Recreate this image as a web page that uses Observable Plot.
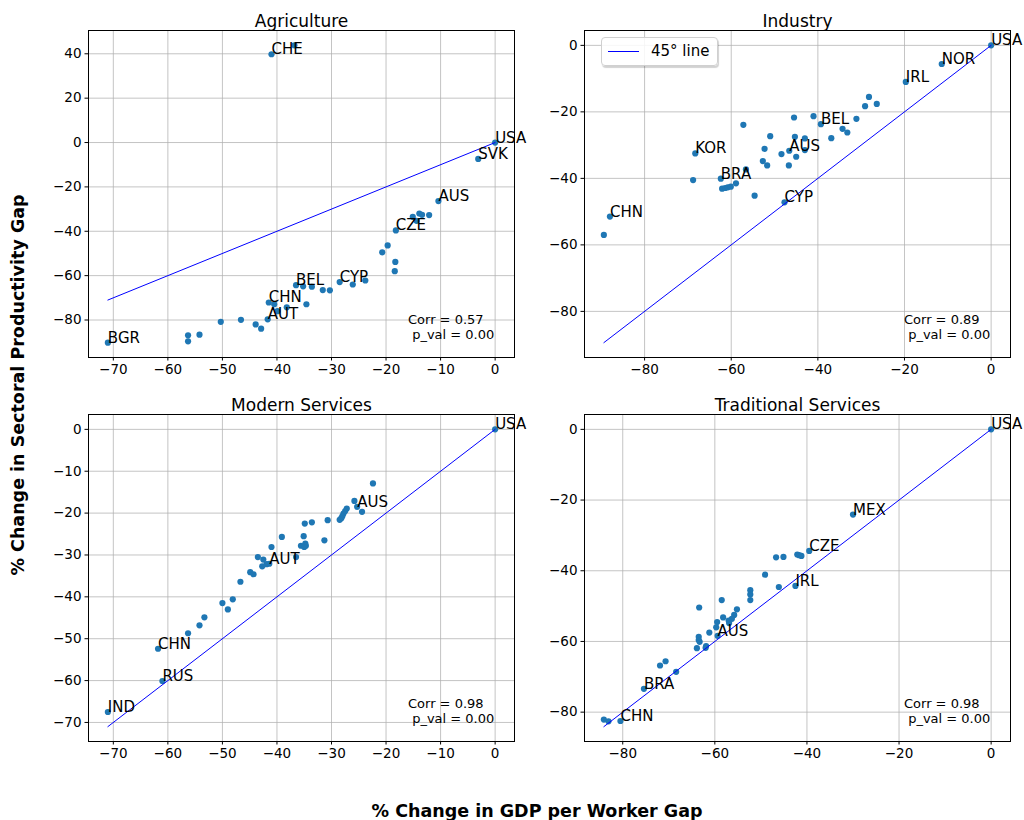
<!DOCTYPE html>
<html><head><meta charset="utf-8">
<script src="https://cdn.jsdelivr.net/npm/d3@7"></script>
<script src="https://cdn.jsdelivr.net/npm/@observablehq/plot@0.6"></script>
<style>
html,body{margin:0;padding:0;background:#fff;overflow:hidden;}
#root{position:relative;width:1024px;height:820px;font-family:"DejaVu Sans",sans-serif;color:#000;}
.panel{position:absolute;}
.panel svg{overflow:visible;}
.ylab{position:absolute;left:18px;top:385px;transform:translate(-50%,-50%) rotate(-90deg);white-space:nowrap;font-weight:bold;font-size:17.5px;}
.xlab{position:absolute;left:537px;top:811px;transform:translate(-50%,-50%);white-space:nowrap;font-weight:bold;font-size:17.5px;}
.legend{position:absolute;left:601px;top:37px;width:115px;height:27px;border:1px solid #d0d0d0;border-radius:4px;background:rgba(255,255,255,0.85);box-shadow:1px 2px 1px rgba(0,0,0,0.18);}
.legend .sw{position:absolute;left:6px;top:13px;width:31px;height:1.2px;background:blue;}
.legend .tx{position:absolute;left:49px;top:3px;font-size:15px;line-height:20px;}
</style></head>
<body><div id="root"></div>
<script>
// ---- data (code, % change in GDP per worker gap, % change in sectoral productivity gap) ----
const panelTitles = ["Agriculture", "Industry", "Modern Services", "Traditional Services"];
const corrValues = [0.57, 0.89, 0.98, 0.98];
const pValues = [0.00, 0.00, 0.00, 0.00];
const legendLabel = "45° line";
const xAxisLabel = "% Change in GDP per Worker Gap";
const yAxisLabel = "% Change in Sectoral Productivity Gap";

const agriculturePoints = [
  ["CHE", -41.0, 39.8], ["", -36.8, 43.8], ["USA", 0, 0], ["SVK", -3.1, -7.4],
  ["AUS", -10.4, -26.4], ["", -15.1, -33.5], ["", -14.4, -35.3], ["", -13.9, -32.0],
  ["", -13.4, -32.6], ["", -12.1, -32.7], ["CZE", -18.2, -39.6], ["", -19.7, -46.4],
  ["", -20.7, -49.5], ["", -18.3, -53.8], ["", -18.4, -58.0], ["CYP", -28.5, -62.9],
  ["", -26.1, -64.0], ["", -23.8, -62.2], ["", -30.3, -66.6], ["", -31.6, -66.5],
  ["", -33.6, -65.0], ["BEL", -36.5, -64.3], ["", -35.2, -64.8], ["", -34.6, -72.9],
  ["", -38.2, -74.3], ["CHN", -41.5, -72.1], ["", -40.5, -72.9], ["", -39.9, -76.0],
  ["AUT", -41.7, -79.7], ["", -43.9, -82.0], ["", -42.9, -83.9], ["", -46.6, -79.9],
  ["", -50.3, -80.8], ["", -54.2, -86.6], ["", -56.3, -86.9], ["", -56.3, -89.6],
  ["BGR", -71.0, -90.2]
];
const industryPoints = [
  ["USA", 0, 0], ["NOR", -11.4, -5.6], ["IRL", -19.7, -11.0], ["", -28.2, -15.5],
  ["", -29.1, -18.3], ["", -26.4, -17.6], ["", -31.1, -22.1], ["", -34.3, -25.1],
  ["", -33.2, -26.2], ["", -36.9, -27.9], ["BEL", -39.3, -23.7], ["", -41.0, -21.3],
  ["", -45.5, -21.7], ["", -45.3, -27.5], ["", -43.0, -28.0], ["", -43.0, -31.5],
  ["AUS", -46.6, -31.7], ["", -45.0, -33.5], ["", -48.4, -32.7], ["", -46.7, -36.1],
  ["", -51.0, -27.3], ["", -52.3, -31.1], ["", -52.7, -34.8], ["", -51.7, -36.1],
  ["", -57.2, -23.9], ["", -56.6, -37.3], ["", -54.6, -45.2], ["KOR", -68.3, -32.5],
  ["", -68.8, -40.5], ["BRA", -62.4, -40.1], ["", -62.1, -43.1], ["", -61.4, -42.9],
  ["", -60.8, -42.7], ["", -60.1, -42.5], ["", -58.9, -41.5], ["CYP", -47.7, -47.2],
  ["CHN", -88.0, -51.5], ["", -89.4, -57.0]
];
const modernPoints = [
  ["USA", 0, 0], ["", -22.4, -12.9], ["", -25.8, -17.1], ["AUS", -25.3, -18.5],
  ["", -24.4, -19.7], ["", -27.2, -18.9], ["", -27.5, -19.5], ["", -27.8, -20.1],
  ["", -28.0, -20.7], ["", -28.2, -21.2], ["", -28.5, -21.6], ["", -30.7, -21.7],
  ["", -33.6, -22.2], ["", -34.9, -22.5], ["", -31.3, -26.5], ["", -35.1, -25.5],
  ["", -35.6, -27.8], ["", -34.8, -27.3], ["", -34.7, -27.8], ["", -35.0, -28.1],
  ["", -39.1, -25.7], ["", -41.0, -28.1], ["", -36.5, -30.5], ["AUT", -41.4, -32.1],
  ["", -42.5, -31.1], ["", -41.9, -32.2], ["", -42.7, -32.7], ["", -43.5, -30.5],
  ["", -44.9, -34.1], ["", -44.3, -34.6], ["", -46.7, -36.4], ["", -48.1, -40.6],
  ["", -50.0, -41.5], ["", -49.0, -43.0], ["", -53.3, -44.9], ["", -54.2, -46.8],
  ["", -56.3, -48.7], ["CHN", -61.8, -52.4], ["RUS", -61.0, -60.1], ["IND", -71.0, -67.5]
];
const traditionalPoints = [
  ["USA", 0, 0], ["MEX", -30.0, -24.1], ["CZE", -39.5, -34.4], ["", -42.1, -35.4],
  ["", -41.7, -35.6], ["", -41.2, -35.8], ["", -46.7, -36.2], ["", -45.1, -36.1],
  ["", -49.1, -41.1], ["IRL", -42.5, -44.3], ["", -46.1, -44.6], ["", -52.3, -45.5],
  ["", -52.3, -46.7], ["", -52.3, -48.3], ["", -58.5, -48.3], ["", -55.2, -50.9],
  ["", -55.8, -52.5], ["", -56.3, -53.6], ["", -57.0, -54.1], ["", -56.9, -54.8],
  ["", -58.2, -53.2], ["", -63.4, -50.4], ["", -59.5, -54.5], ["", -59.7, -56.0],
  ["", -61.2, -57.5], ["AUS", -59.4, -58.4], ["", -63.5, -58.7], ["", -63.5, -59.6],
  ["", -63.3, -60.1], ["", -61.9, -61.3], ["", -62.0, -61.8], ["", -63.9, -61.9],
  ["", -70.7, -65.6], ["", -71.9, -66.8], ["", -68.4, -68.6], ["BRA", -75.4, -73.4],
  ["CHN", -80.5, -82.5], ["", -84.1, -82.1], ["", -83.1, -82.6]
];

const agricultureXTicks = [-70, -60, -50, -40, -30, -20, -10, 0];
const agricultureYTicks = [-80, -60, -40, -20, 0, 20, 40];
const industryXTicks = [-80, -60, -40, -20, 0];
const industryYTicks = [-80, -60, -40, -20, 0];
const modernXTicks = [-70, -60, -50, -40, -30, -20, -10, 0];
const modernYTicks = [-70, -60, -50, -40, -30, -20, -10, 0];
const traditionalXTicks = [-80, -60, -40, -20, 0];
const traditionalYTicks = [-80, -60, -40, -20, 0];

// ---- layout ----
const ML = 50, MR = 14, MT = 30, MB = 30, FW = 426, FH = 327;
const root = document.getElementById("root");

function pad([a, b]) { const r = b - a; return [a - 0.05 * r, b + 0.05 * r]; }

function makePanel(points, title, corr, pval, xTicks, yTicks, frameLeft, frameTop) {
  const xs = points.map(d => d[1]), ys = points.map(d => d[2]);
  const lo = d3.min(xs);
  const diag = [[lo, lo], [0, 0]];
  const xDom = pad([lo, Math.max(d3.max(xs), 0)]);
  const yDom = pad([Math.min(d3.min(ys), lo), Math.max(d3.max(ys), 0)]);
  const grid = {stroke: "#b0b0b0", strokeOpacity: 0.75, strokeWidth: 1};
  const ax = {tickSize: 3.5, tickPadding: 3.5, fontSize: 13.5, label: null, stroke: "black", fill: "black", strokeWidth: 1};
  const chart = Plot.plot({
    width: ML + FW + MR, height: MT + FH + MB,
    marginLeft: ML, marginRight: MR, marginTop: MT, marginBottom: MB,
    style: {fontFamily: "DejaVu Sans", fontSize: "13.5px", overflow: "visible", background: "transparent", color: "black"},
    x: {domain: xDom},
    y: {domain: yDom},
    marks: [
      Plot.gridX(xTicks, grid),
      Plot.gridY(yTicks, grid),
      Plot.axisX(xTicks, ax),
      Plot.axisY(yTicks, ax),
      Plot.dot(points, {x: d => d[1], y: d => d[2], r: 3.1, fill: "#1f77b4"}),
      Plot.line(diag, {x: d => d[0], y: d => d[1], stroke: "blue", strokeWidth: 1}),
      Plot.text(points.filter(d => d[0]), {x: d => d[1], y: d => d[2], text: d => d[0], textAnchor: "start", lineAnchor: "bottom", fontSize: 15, fill: "black"}),
      Plot.text([`Corr = ${corr.toFixed(2)}\n\u00a0p_val = ${pval.toFixed(2)}`], {text: d => d, frameAnchor: "bottom-left", textAnchor: "start", lineAnchor: "bottom", dx: 0.75 * FW, dy: -19, fontSize: 13, lineHeight: 1.15, fill: "black"}),
      Plot.text([title], {text: d => d, frameAnchor: "top", lineAnchor: "bottom", dy: -4, fontSize: 17, fill: "black"}),
      Plot.frame({stroke: "black", strokeWidth: 1})
    ]
  });
  const div = document.createElement("div");
  div.className = "panel";
  div.style.left = (frameLeft - ML) + "px";
  div.style.top = (frameTop - MT) + "px";
  div.appendChild(chart);
  root.appendChild(div);
}

makePanel(agriculturePoints, panelTitles[0], corrValues[0], pValues[0], agricultureXTicks, agricultureYTicks, 88, 30);
makePanel(industryPoints, panelTitles[1], corrValues[1], pValues[1], industryXTicks, industryYTicks, 584, 30);
makePanel(modernPoints, panelTitles[2], corrValues[2], pValues[2], modernXTicks, modernYTicks, 88, 414);
makePanel(traditionalPoints, panelTitles[3], corrValues[3], pValues[3], traditionalXTicks, traditionalYTicks, 584, 414);

const legend = document.createElement("div");
legend.className = "legend";
legend.innerHTML = `<div class="sw"></div><div class="tx"></div>`;
legend.querySelector(".tx").textContent = legendLabel;
root.appendChild(legend);

const yl = document.createElement("div"); yl.className = "ylab"; yl.textContent = yAxisLabel; root.appendChild(yl);
const xl = document.createElement("div"); xl.className = "xlab"; xl.textContent = xAxisLabel; root.appendChild(xl);
</script>
</body></html>
